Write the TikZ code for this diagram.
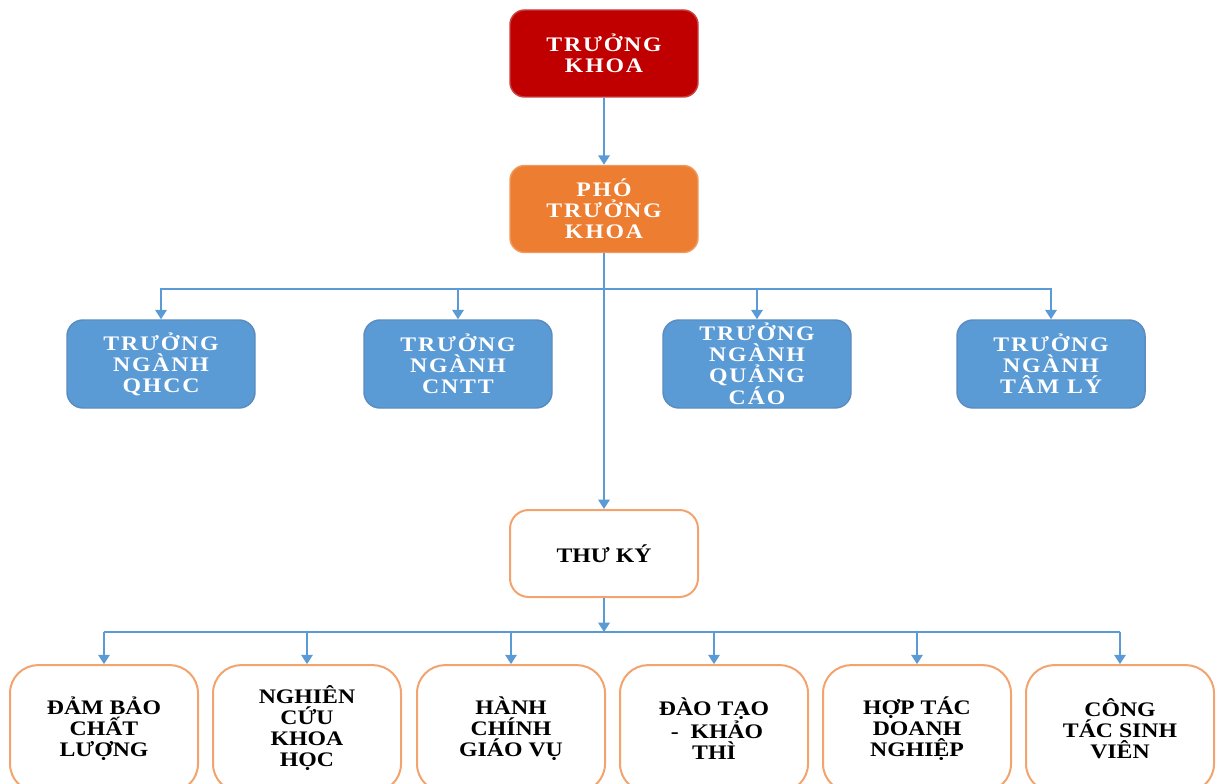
\documentclass[tikz,border=0pt]{standalone}
\usepackage{fontspec}
\setmainfont{Liberation Serif}
\newfontfamily\wfont{Liberation Serif}[FakeStretch=1.15,LetterSpace=9]
\newfontfamily\kfont{Liberation Serif}[FakeStretch=1.15]
\usetikzlibrary{arrows.meta}
\definecolor{dred}{HTML}{C00000}
\definecolor{dredb}{HTML}{C84040}
\definecolor{org}{HTML}{ED7D31}
\definecolor{orgb}{HTML}{F09A5E}
\definecolor{blu}{HTML}{5B9BD5}
\definecolor{blub}{HTML}{5A8CC0}
\definecolor{lorg}{HTML}{F3A46E}
\definecolor{conn}{HTML}{5B9BD5}
\begin{document}
\begin{tikzpicture}[x=0.75pt,y=-0.75pt,
  wbox/.style={rectangle, align=center, inner sep=2pt, line width=1.1pt,
    font=\wfont\bfseries\fontsize{15.5}{15.75}\selectfont, text=white},
  topbox/.style={wbox, rounded corners=11pt, minimum width=141pt, minimum height=65.25pt},
  bluebox/.style={wbox, rounded corners=12pt, fill=blu, draw=blub, minimum width=141pt, minimum height=66pt},
  kbox/.style={rectangle, align=center, inner sep=2pt, line width=1.5pt, fill=white, draw=lorg,
    font=\kfont\bfseries\fontsize{15.5}{15.75}\selectfont, text=black},
  tkbox/.style={kbox, rounded corners=14pt, minimum width=141pt, minimum height=65.25pt},
  botbox/.style={kbox, rounded corners=21pt, minimum width=141pt, minimum height=95pt},
  arr/.style={draw=conn, line width=1.5pt, -{Triangle[length=7pt,width=8.5pt]}},
  bus/.style={draw=conn, line width=1.5pt}
]
\useasboundingbox (0,0) rectangle (1219,784);
\clip (0,0) rectangle (1219,784);

\node[topbox, fill=dred, draw=dredb] (tk) at (604,53.5) {TRƯỞNG\\KHOA};
\node[topbox, fill=org, draw=orgb] (pho) at (604,209) {PHÓ\\TRƯỞNG\\KHOA};

\node[bluebox] (b1) at (161,364) {TRƯỞNG\\NGÀNH\\QHCC};
\node[bluebox] (b2) at (458,364) {TRƯỞNG\\NGÀNH\\CNTT};
\node[bluebox] (b3) at (757,364) {TRƯỞNG\\NGÀNH\\QUẢNG\\CÁO};
\node[bluebox] (b4) at (1051,364) {TRƯỞNG\\NGÀNH\\TÂM LÝ};

\node[tkbox] (tky) at (604,553.5) {THƯ KÝ};

\node[botbox] (c1) at (104,728.5) {ĐẢM BẢO\\CHẤT\\LƯỢNG};
\node[botbox] (c2) at (307,728.5) {NGHIÊN\\CỨU\\KHOA\\HỌC};
\node[botbox] (c3) at (511,728.5) {HÀNH\\CHÍNH\\GIÁO VỤ};
\node[botbox] (c4) at (714,728.5) {ĐÀO TẠO\\\ -\ \ KHẢO\\THÌ};
\node[botbox] (c5) at (917,728.5) {HỢP TÁC\\DOANH\\NGHIỆP};
\node[botbox] (c6) at (1120,728.5) {CÔNG\\TÁC SINH\\VIÊN};

\coordinate (bus1) at (604,289);
\coordinate (bus2) at (604,632);

\draw[arr] (tk) -- (pho);
\draw[arr] (pho) -- (tky);
\draw[arr] (bus1) -| (b1);
\draw[arr] (bus1) -| (b2);
\draw[arr] (bus1) -| (b3);
\draw[arr] (bus1) -| (b4);

\draw[arr] (tky) -- (bus2);
\draw[bus] (bus2 -| c1) -- (bus2 -| c6);
\foreach \c in {c1,c2,c3,c4,c5,c6}{
  \draw[arr] (bus2 -| \c) -- (\c);
}
\end{tikzpicture}
\end{document}
